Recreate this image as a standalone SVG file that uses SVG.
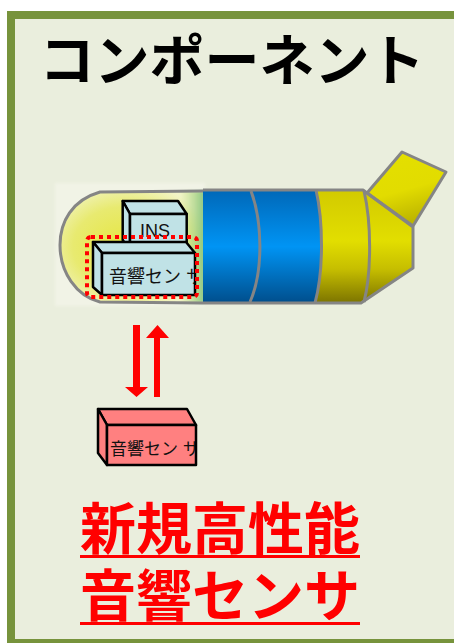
<svg xmlns="http://www.w3.org/2000/svg" width="454" height="643" viewBox="0 0 454 643">
  <defs>
    <linearGradient id="blueBody" x1="0" y1="0" x2="0" y2="1">
      <stop offset="0" stop-color="#0068B8"/>
      <stop offset="0.5" stop-color="#0094F4"/>
      <stop offset="1" stop-color="#004E8C"/>
    </linearGradient>
    <linearGradient id="yellowBody" x1="0" y1="0" x2="0" y2="1">
      <stop offset="0" stop-color="#D2CA00"/>
      <stop offset="0.45" stop-color="#E2DE00"/>
      <stop offset="0.7" stop-color="#C6BE00"/>
      <stop offset="1" stop-color="#7C7400"/>
    </linearGradient>
    <linearGradient id="finFill" x1="0" y1="0" x2="0.3" y2="1">
      <stop offset="0" stop-color="#E4E000"/>
      <stop offset="0.6" stop-color="#E2DC00"/>
      <stop offset="1" stop-color="#BEB600"/>
    </linearGradient>
    <radialGradient id="noseFill" cx="0.45" cy="0.5" r="0.6">
      <stop offset="0" stop-color="#E6E640"/>
      <stop offset="0.6" stop-color="#E8EA70"/>
      <stop offset="1" stop-color="#F2F4C8"/>
    </radialGradient>
    <linearGradient id="noseEdge" x1="0" y1="0" x2="1" y2="0">
      <stop offset="0" stop-color="#9CCB5A" stop-opacity="0"/>
      <stop offset="1" stop-color="#6CB870" stop-opacity="0.8"/>
    </linearGradient>
    <filter id="soft" x="-10%" y="-10%" width="120%" height="120%">
      <feGaussianBlur stdDeviation="1.5"/>
    </filter>
    <clipPath id="clipInstalled"><rect x="102" y="253" width="92" height="42"/></clipPath>
    <clipPath id="clipNew"><rect x="107" y="425" width="88" height="40"/></clipPath>
  </defs>
  <style>
    .frame { fill: #EAEEDD; stroke: #77933C; stroke-width: 8; }
    .outline { fill: none; stroke: #858585; stroke-width: 3; stroke-linejoin: round; }
    .box { stroke: #000; stroke-width: 2.5; stroke-linejoin: round; }
    .cyan { fill: #C0E2E6; }
    .pink { fill: #FF8080; }
    .label { font-family: "Liberation Sans", "Noto Sans CJK JP", sans-serif; fill: #111; }
    .title { font-family: "Noto Sans CJK JP", sans-serif; font-weight: bold; }
    .arrow { fill: #FF0000; }
  </style>

  <!-- panel -->
  <rect class="frame" x="11" y="15" width="460" height="628"/>

  <text class="title" x="232" y="80" font-size="55" text-anchor="middle" fill="#000">コンポーネント</text>

  <!-- vehicle body -->
  <g id="vehicle">
    <rect x="55" y="183" width="150" height="123" fill="#F1F3E6" filter="url(#soft)"/>
    <path d="M203,191 L100,192 C72,200 60,222 60,245 C60,272 76,296 100,302 L203,303 Z" fill="url(#noseFill)"/>
    <rect x="180" y="191" width="25" height="112" fill="url(#noseEdge)" filter="url(#soft)"/>
    <path class="outline" d="M203,191 L100,192 C72,200 60,222 60,245 C60,272 76,296 100,302 L203,303"/>

    <!-- blue section -->
    <path d="M203,190 L317,190 C322,220 323,270 316,303 L203,303 Z" fill="url(#blueBody)"/>
    <!-- yellow section -->
    <path d="M316,190 L363,190 L413,227 L413,268 L361,303 L316,303 C323,270 322,220 316,190 Z" fill="url(#yellowBody)"/>
    <!-- fin -->
    <polygon points="367,193 402,152 446,172 413,226" fill="url(#finFill)"/>
    <polygon class="outline" points="367,193 402,152 446,172 413,226" stroke-width="4"/>

    <!-- outlines -->
    <path class="outline" d="M203,190 L363,190 L413,227 L413,268 L361,303 L203,303"/>
    <path class="outline" d="M251,191 C262,220 264,270 250,302"/>
    <path class="outline" d="M316,190 C323,220 324,270 315,303"/>
    <path class="outline" d="M364,191 C372,225 371,275 364,302"/>
  </g>

  <!-- INS unit -->
  <g id="ins">
    <polygon class="box cyan" points="122.7,201 178,201 186.7,214 130,214"/>
    <polygon class="box cyan" points="122.7,201 130,214 130,250 122.7,240"/>
    <rect class="box cyan" x="130" y="214" width="56.7" height="34"/>
    <text class="label" x="140" y="237" font-size="18">INS</text>
  </g>

  <!-- acoustic sensor inside the body -->
  <g id="sensor-installed">
    <polygon class="box cyan" points="93,242 186,242 195,253 102,253"/>
    <polygon class="box cyan" points="93,242 102,253 102,295 93,287"/>
    <rect class="box cyan" x="102" y="253" width="93" height="42"/>
    <text class="label" x="109" y="283" font-size="18" clip-path="url(#clipInstalled)">音響セン サ</text>
    <rect x="87" y="237" width="110" height="60" rx="4" fill="none" stroke="#FF0000" stroke-width="4" stroke-dasharray="4 4"/>
  </g>

  <!-- exchange arrows -->
  <g id="connectors">
    <polygon class="arrow" points="133,325 140,325 140,387 148,387 136.5,397 125,387 133,387"/>
    <polygon class="arrow" points="154,397 160,397 160,338 169,338 157.5,325 146,338 154,338"/>
  </g>

  <!-- new acoustic sensor -->
  <g id="sensor-new">
    <polygon class="box pink" points="98,409 187,409 196,425 107,425"/>
    <polygon class="box pink" points="98,409 107,425 107,465 98,453"/>
    <rect class="box pink" x="107" y="425" width="89" height="40"/>
    <text class="label" x="110" y="455" font-size="17" clip-path="url(#clipNew)">音響セン サ</text>
  </g>

  <!-- caption -->
  <g id="caption" fill="#FF0000">
    <text class="title" font-size="56" text-anchor="middle"><tspan x="220" y="549">新規高性能</tspan><tspan x="220" y="616">音響センサ</tspan></text>
    <rect x="80" y="555" width="280" height="3"/>
    <rect x="80" y="622" width="280" height="3"/>
  </g>
</svg>
